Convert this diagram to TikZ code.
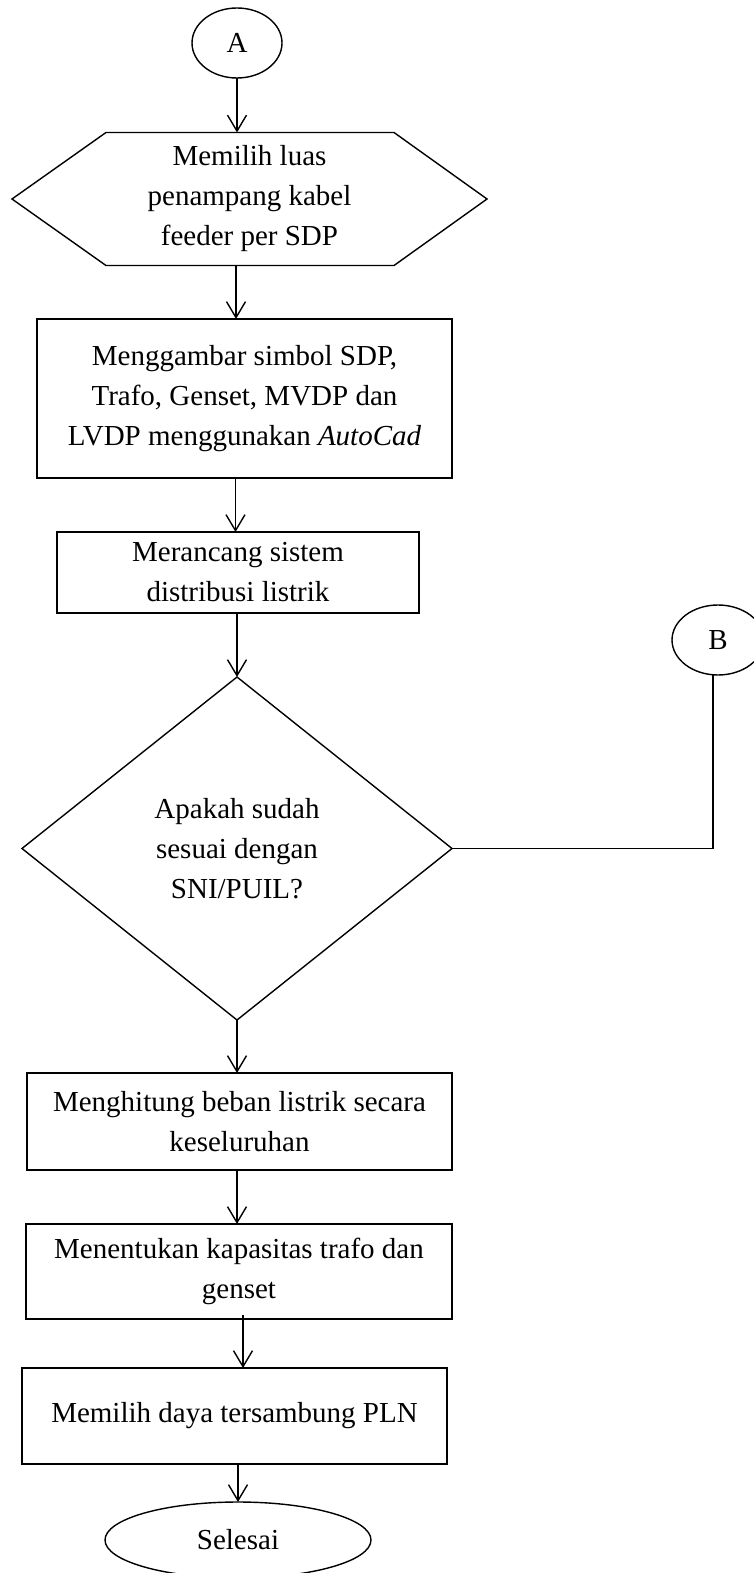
\documentclass[tikz,border=0pt]{standalone}
\usepackage{fontspec}
\setmainfont{Liberation Serif}
\usetikzlibrary{arrows.meta,shapes.geometric}
\begin{document}
\begin{tikzpicture}[x=1pt,y=-1pt,
  every node/.style={font=\fontsize{29}{40}\selectfont, align=center, inner sep=0pt, outer sep=0pt},
  box/.style={draw, rectangle, line width=1.4pt},
  oval/.style={draw, ellipse, line width=1.4pt},
  frame/.style={rectangle, draw=none},
  arr/.style={-{Straight Barb[length=16pt,width=19pt,line width=1.4pt]}, line width=1.4pt},
  link/.style={line width=1.4pt}]
\fill[white] (0,0) rectangle (754,1573);
\useasboundingbox (0,0) rectangle (754,1573);

\node[oval, minimum width=90pt, minimum height=70pt] (A) at (237,43) {A};

\node[frame, minimum width=475pt, minimum height=133pt] (hex) at (249.5,199) {Memilih luas\\penampang kabel\\feeder per SDP};
\draw[link] (hex.west) -- ([xshift=94pt]hex.north west) -- ([xshift=-93pt]hex.north east) -- (hex.east) -- ([xshift=-93pt]hex.south east) -- ([xshift=94pt]hex.south west) -- cycle;

\node[box, minimum width=415pt, minimum height=159pt] (r1) at (244.5,398.5) {Menggambar simbol SDP,\\Trafo, Genset, MVDP dan\\LVDP menggunakan \textit{AutoCad}};

\node[box, minimum width=362pt, minimum height=81pt] (r2) at (238,572.5) {Merancang sistem\\distribusi listrik};

\node[frame, minimum width=430pt, minimum height=343pt] (dia) at (237,848.5) {Apakah sudah\\sesuai dengan\\SNI/PUIL?};
\draw[link] (dia.north) -- (dia.east) -- (dia.south) -- (dia.west) -- cycle;

\node[oval, minimum width=92pt, minimum height=70pt] (B) at (718,640) {B};

\node[box, minimum width=425pt, minimum height=97pt] (r3) at (239.5,1121.5) {Menghitung beban listrik secara\\keseluruhan};

\node[box, minimum width=426pt, minimum height=95pt] (r4) at (239,1271.5) {Menentukan kapasitas trafo dan\\genset};

\node[box, minimum width=425pt, minimum height=96pt] (r5) at (234.5,1416) {Memilih daya tersambung PLN};

\node[oval, minimum width=266pt, minimum height=76pt] (end) at (238,1540) {Selesai};

\draw[arr] (A.south) -- (A.south |- hex.north);
\draw[arr] ([xshift=-13.5pt]hex.south) -- ([xshift=-13.5pt]hex.south |- r1.north);
\draw[arr] ([xshift=-9pt]r1.south) -- ([xshift=-9pt]r1.south |- r2.north);
\draw[arr] (dia.north |- r2.south) -- (dia.north);
\draw[arr] (dia.south) -- (dia.south |- r3.north);
\draw[arr] ([xshift=-2.5pt]r3.south) -- ([xshift=-2.5pt]r3.south |- r4.north);
\draw[arr] ([xshift=4pt,yshift=4pt]r4.south) -- ([xshift=4pt]r4.south |- r5.north);
\draw[arr] (end.north |- r5.south) -- (end.north);
\draw[link] ([xshift=-5pt]B.south) -- ([xshift=-5pt]B.south |- dia.east) -- (dia.east);
\end{tikzpicture}
\end{document}
